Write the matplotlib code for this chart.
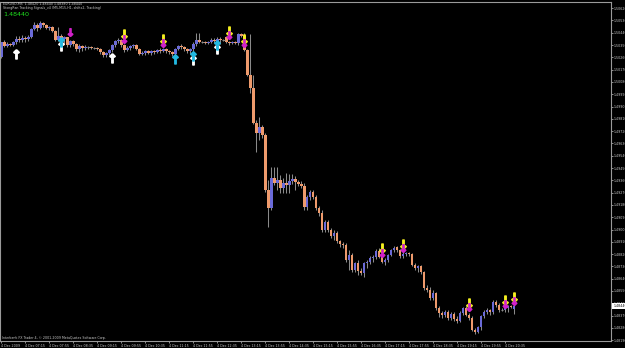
import matplotlib
matplotlib.use("Agg")
import matplotlib.pyplot as plt
import matplotlib.transforms as mtransforms
import numpy as np

# EURUSD M5, 4 Dec 2009, one bar every 5 minutes from 06:35
opens = [
    1.50263, 1.50373, 1.50343, 1.50358, 1.50351, 1.50373, 1.50395, 1.50387, 1.50402, 1.50395,
    1.50409, 1.50468, 1.50497, 1.50475, 1.50512, 1.50497, 1.50475, 1.50482, 1.50453, 1.50387,
    1.50416, 1.50395, 1.50409, 1.50351, 1.50380, 1.50358, 1.50321, 1.50343, 1.50329, 1.50336,
    1.50336, 1.50329, 1.50329, 1.50321, 1.50299, 1.50277, 1.50292, 1.50314, 1.50351, 1.50380,
    1.50387, 1.50351, 1.50314, 1.50329, 1.50343, 1.50351, 1.50321, 1.50285, 1.50292, 1.50307,
    1.50292, 1.50307, 1.50299, 1.50314, 1.50307, 1.50321, 1.50307, 1.50299, 1.50285, 1.50321,
    1.50343, 1.50336, 1.50321, 1.50307, 1.50321, 1.50358, 1.50387, 1.50373, 1.50373, 1.50365,
    1.50373, 1.50387, 1.50380, 1.50395, 1.50387, 1.50409, 1.50373, 1.50365, 1.50373, 1.50365,
    1.50431, 1.50416, 1.50314, 1.50131, 1.50036, 1.49780, 1.49706, 1.49750, 1.49692, 1.49289,
    1.49157, 1.49377, 1.49340, 1.49362, 1.49304, 1.49340, 1.49326, 1.49355, 1.49370, 1.49348,
    1.49333, 1.49318, 1.49165, 1.49238, 1.49275, 1.49238, 1.49157, 1.49121, 1.48996, 1.49055,
    1.48996, 1.48952, 1.48974, 1.48916, 1.48894, 1.48887, 1.48777, 1.48813, 1.48704, 1.48755,
    1.48696, 1.48682, 1.48755, 1.48762, 1.48791, 1.48799, 1.48843, 1.48799, 1.48762, 1.48777,
    1.48813, 1.48850, 1.48872, 1.48850, 1.48806, 1.48821, 1.48828, 1.48821, 1.48740, 1.48718,
    1.48733, 1.48689, 1.48572, 1.48557, 1.48499, 1.48535, 1.48425, 1.48388, 1.48374, 1.48396,
    1.48352, 1.48382, 1.48345, 1.48330, 1.48388, 1.48425, 1.48374, 1.48352, 1.48264, 1.48250,
    1.48286, 1.48367, 1.48396, 1.48411, 1.48396, 1.48469, 1.48447, 1.48411, 1.48411, 1.48425,
    1.48440, 1.48420,
]
highs = [
    1.50373, 1.50387, 1.50373, 1.50365, 1.50380, 1.50416, 1.50416, 1.50424, 1.50416, 1.50424,
    1.50475, 1.50519, 1.50512, 1.50526, 1.50519, 1.50504, 1.50490, 1.50490, 1.50460, 1.50482,
    1.50431, 1.50416, 1.50409, 1.50387, 1.50387, 1.50365, 1.50358, 1.50351, 1.50351, 1.50343,
    1.50343, 1.50336, 1.50336, 1.50329, 1.50307, 1.50299, 1.50321, 1.50358, 1.50387, 1.50402,
    1.50395, 1.50358, 1.50343, 1.50351, 1.50358, 1.50358, 1.50329, 1.50307, 1.50314, 1.50314,
    1.50314, 1.50314, 1.50321, 1.50329, 1.50329, 1.50329, 1.50314, 1.50307, 1.50329, 1.50351,
    1.50358, 1.50343, 1.50329, 1.50329, 1.50373, 1.50438, 1.50438, 1.50380, 1.50380, 1.50380,
    1.50402, 1.50402, 1.50409, 1.50409, 1.50395, 1.50416, 1.50380, 1.50380, 1.50380, 1.50438,
    1.50438, 1.50438, 1.50321, 1.50431, 1.50131, 1.49802, 1.49824, 1.49765, 1.49706, 1.49362,
    1.49458, 1.49458, 1.49458, 1.49399, 1.49377, 1.49414, 1.49406, 1.49406, 1.49392, 1.49362,
    1.49355, 1.49340, 1.49253, 1.49289, 1.49289, 1.49253, 1.49172, 1.49143, 1.49070, 1.49070,
    1.49011, 1.48996, 1.48989, 1.48923, 1.48909, 1.48901, 1.48850, 1.48828, 1.48762, 1.48777,
    1.48718, 1.48762, 1.48777, 1.48806, 1.48813, 1.48857, 1.48865, 1.48813, 1.48791, 1.48821,
    1.48857, 1.48879, 1.48879, 1.48857, 1.48835, 1.48835, 1.48835, 1.48828, 1.48755, 1.48740,
    1.48740, 1.48696, 1.48594, 1.48579, 1.48557, 1.48543, 1.48440, 1.48403, 1.48411, 1.48411,
    1.48396, 1.48396, 1.48367, 1.48403, 1.48433, 1.48440, 1.48388, 1.48367, 1.48279, 1.48294,
    1.48374, 1.48411, 1.48425, 1.48418, 1.48484, 1.48484, 1.48462, 1.48425, 1.48433, 1.48447,
    1.48447, 1.48440,
]
lows = [
    1.50255, 1.50336, 1.50336, 1.50343, 1.50343, 1.50358, 1.50373, 1.50373, 1.50373, 1.50380,
    1.50402, 1.50460, 1.50453, 1.50468, 1.50482, 1.50468, 1.50460, 1.50446, 1.50380, 1.50380,
    1.50373, 1.50358, 1.50336, 1.50336, 1.50343, 1.50307, 1.50299, 1.50307, 1.50314, 1.50321,
    1.50321, 1.50321, 1.50314, 1.50285, 1.50263, 1.50263, 1.50277, 1.50299, 1.50336, 1.50365,
    1.50336, 1.50299, 1.50307, 1.50314, 1.50329, 1.50314, 1.50277, 1.50277, 1.50277, 1.50285,
    1.50277, 1.50285, 1.50292, 1.50292, 1.50299, 1.50292, 1.50285, 1.50270, 1.50270, 1.50314,
    1.50321, 1.50307, 1.50292, 1.50285, 1.50299, 1.50343, 1.50365, 1.50365, 1.50358, 1.50358,
    1.50365, 1.50365, 1.50373, 1.50358, 1.50380, 1.50365, 1.50351, 1.50358, 1.50358, 1.50351,
    1.50409, 1.50307, 1.50124, 1.49999, 1.49772, 1.49567, 1.49655, 1.49670, 1.49275, 1.49018,
    1.49143, 1.49326, 1.49289, 1.49267, 1.49267, 1.49267, 1.49267, 1.49333, 1.49289, 1.49318,
    1.49304, 1.49143, 1.49143, 1.49216, 1.49223, 1.49143, 1.49099, 1.48982, 1.48982, 1.48982,
    1.48938, 1.48923, 1.48901, 1.48872, 1.48865, 1.48762, 1.48704, 1.48689, 1.48689, 1.48667,
    1.48667, 1.48652, 1.48718, 1.48748, 1.48762, 1.48784, 1.48791, 1.48755, 1.48740, 1.48762,
    1.48806, 1.48835, 1.48835, 1.48791, 1.48791, 1.48806, 1.48806, 1.48733, 1.48704, 1.48689,
    1.48674, 1.48557, 1.48543, 1.48484, 1.48484, 1.48411, 1.48360, 1.48352, 1.48360, 1.48338,
    1.48338, 1.48330, 1.48316, 1.48323, 1.48374, 1.48367, 1.48338, 1.48257, 1.48235, 1.48242,
    1.48264, 1.48352, 1.48382, 1.48374, 1.48382, 1.48433, 1.48396, 1.48403, 1.48396, 1.48396,
    1.48425, 1.48380,
]
closes = [
    1.50373, 1.50343, 1.50358, 1.50351, 1.50373, 1.50395, 1.50387, 1.50402, 1.50395, 1.50409,
    1.50468, 1.50497, 1.50475, 1.50512, 1.50497, 1.50475, 1.50482, 1.50453, 1.50387, 1.50416,
    1.50395, 1.50409, 1.50351, 1.50380, 1.50358, 1.50321, 1.50343, 1.50329, 1.50336, 1.50336,
    1.50329, 1.50329, 1.50321, 1.50299, 1.50277, 1.50292, 1.50314, 1.50351, 1.50380, 1.50387,
    1.50351, 1.50314, 1.50329, 1.50343, 1.50351, 1.50321, 1.50285, 1.50292, 1.50307, 1.50292,
    1.50307, 1.50299, 1.50314, 1.50307, 1.50321, 1.50307, 1.50299, 1.50285, 1.50321, 1.50343,
    1.50336, 1.50321, 1.50307, 1.50321, 1.50358, 1.50387, 1.50373, 1.50373, 1.50365, 1.50373,
    1.50387, 1.50380, 1.50395, 1.50387, 1.50387, 1.50373, 1.50365, 1.50373, 1.50365, 1.50431,
    1.50416, 1.50314, 1.50131, 1.50036, 1.49780, 1.49706, 1.49750, 1.49692, 1.49289, 1.49157,
    1.49377, 1.49340, 1.49362, 1.49304, 1.49340, 1.49326, 1.49355, 1.49370, 1.49348, 1.49333,
    1.49318, 1.49165, 1.49238, 1.49275, 1.49238, 1.49157, 1.49121, 1.48996, 1.49055, 1.48996,
    1.48952, 1.48974, 1.48916, 1.48894, 1.48887, 1.48777, 1.48813, 1.48704, 1.48755, 1.48696,
    1.48682, 1.48755, 1.48762, 1.48791, 1.48799, 1.48843, 1.48799, 1.48762, 1.48777, 1.48813,
    1.48850, 1.48865, 1.48850, 1.48806, 1.48821, 1.48828, 1.48821, 1.48740, 1.48718, 1.48733,
    1.48689, 1.48572, 1.48557, 1.48499, 1.48535, 1.48425, 1.48388, 1.48374, 1.48396, 1.48352,
    1.48382, 1.48345, 1.48330, 1.48388, 1.48425, 1.48374, 1.48352, 1.48264, 1.48250, 1.48286,
    1.48367, 1.48396, 1.48411, 1.48396, 1.48469, 1.48447, 1.48411, 1.48411, 1.48425, 1.48440,
    1.48433, 1.48440,
]

# signal arrows: (bar, price)
white_up = [(5, 1.50285), (20, 1.50343), (37, 1.50255), (64, 1.50241), (72, 1.50321)]
cyan_up = [(20, 1.50373), (58, 1.50248), (64, 1.50270), (72, 1.50351)]
yellow_dn = [(41, 1.50431), (54, 1.50395), (76, 1.50453), (81, 1.50395), (127, 1.48865),
             (134, 1.48894), (156, 1.48462), (168, 1.48484), (171, 1.48506)]
magenta_dn = [(23, 1.50446), (41, 1.50395), (54, 1.50365), (76, 1.50424), (81, 1.50365),
              (127, 1.48828), (134, 1.48865), (156, 1.48433), (168, 1.48455), (171, 1.48477)]

time_labels = ["4 Dec 2009", "4 Dec 07:15", "4 Dec 07:55", "4 Dec 08:35", "4 Dec 09:15",
               "4 Dec 09:55", "4 Dec 10:35", "4 Dec 11:15", "4 Dec 11:55", "4 Dec 12:35",
               "4 Dec 13:15", "4 Dec 13:55", "4 Dec 14:35", "4 Dec 15:15", "4 Dec 15:55",
               "4 Dec 16:35", "4 Dec 17:15", "4 Dec 17:55", "4 Dec 18:35", "4 Dec 19:15",
               "4 Dec 19:55", "4 Dec 20:35"]
time_label_bars = [0, 8, 16, 24, 32, 40, 48, 56, 64, 72, 80, 88, 96, 104, 112, 120,
                   128, 136, 144, 152, 160, 168]
price_ticks = [1.48190 + 0.0009 * k for k in range(28)]
last_price = 1.48440

UP = "#6a6ad8"
DOWN = "#ee9a6c"
WICK = "#8a8a8a"
FG = "#c8c8c8"

o = np.array(opens)
h = np.array(highs)
l = np.array(lows)
c = np.array(closes)
x = np.arange(len(c))

fig = plt.figure(figsize=(6.25, 3.48), dpi=100, facecolor="black")
ax = fig.add_axes([0, 7 / 348, 611 / 625, 339 / 348], facecolor="black")

ax.vlines(x, l, h, color=WICK, lw=0.75, zorder=1)
up = c > o
dn = c < o
flat = c == o
ax.bar(x[up], (c - o)[up], bottom=o[up], width=0.7, color=UP, zorder=2)
ax.bar(x[dn], (o - c)[dn], bottom=c[dn], width=0.7, color=DOWN, zorder=2)
ax.hlines(c[flat], x[flat] - 0.35, x[flat] + 0.35, color=WICK, lw=0.75, zorder=2)

for pts, col, mk, ms in [(white_up, "white", r"$\mathbf{\uparrow}$", 6.5),
                         (cyan_up, "#22b8e0", r"$\mathbf{\uparrow}$", 6.5),
                         (yellow_dn, "#f5f020", r"$\mathbf{\downarrow}$", 6.5),
                         (magenta_dn, "#d020c8", r"$\mathbf{\downarrow}$", 5.5)]:
    bx, by = zip(*pts)
    ax.plot(bx, by, ls="none", marker=mk, color=col, ms=ms, mew=1.0, zorder=3)

ax.set_xlim(-0.5, 203.2)
ax.set_ylim(1.48184, 1.50665)

for s in ax.spines.values():
    s.set_color("#9a9a9a")
    s.set_linewidth(0.8)

ax.yaxis.tick_right()
ax.set_yticks(price_ticks)
ax.set_yticklabels([f"{p:.5f}" for p in price_ticks])
ax.set_xticks(time_label_bars)
ax.set_xticklabels(time_labels)
ax.tick_params(axis="both", colors=FG, labelsize=2.3, length=1.5, width=0.5, pad=0.6)
for lbl in ax.get_xticklabels():
    lbl.set_ha("left")

# current price tag on the price scale, drawn over the tick label under it
trans = mtransforms.blended_transform_factory(ax.transAxes, ax.transData)
ax.text(1.004, last_price, f"{last_price:.5f}", transform=trans, ha="left", va="center",
        fontsize=2.3, color="black", clip_on=False, zorder=10,
        bbox=dict(boxstyle="square,pad=0.35", fc="white", ec="white", lw=0))

fig.text(3 / 625, 1 - 4 / 348, "EURUSD,M5  1.48420 1.48440 1.48380 1.48440",
         fontsize=2.3, color=FG, va="center")
fig.text(3 / 625, 1 - 8 / 348,
         "StongRan Tracking Signals_v4 (M5,M15,H1, shifts2, Tracking)",
         fontsize=2.3, color=FG, va="center")
fig.text(3 / 625, 1 - 14 / 348, "1.48440", fontsize=4.6, color="#1ee01e", va="center")
fig.text(2 / 625, 1 - 338 / 348,
         "Interbank FX Trader 4, \u00a9 2001-2009 MetaQuotes Software Corp.",
         fontsize=2.3, color=FG, va="center")

fig.savefig("out.png", dpi=100, facecolor="black")
